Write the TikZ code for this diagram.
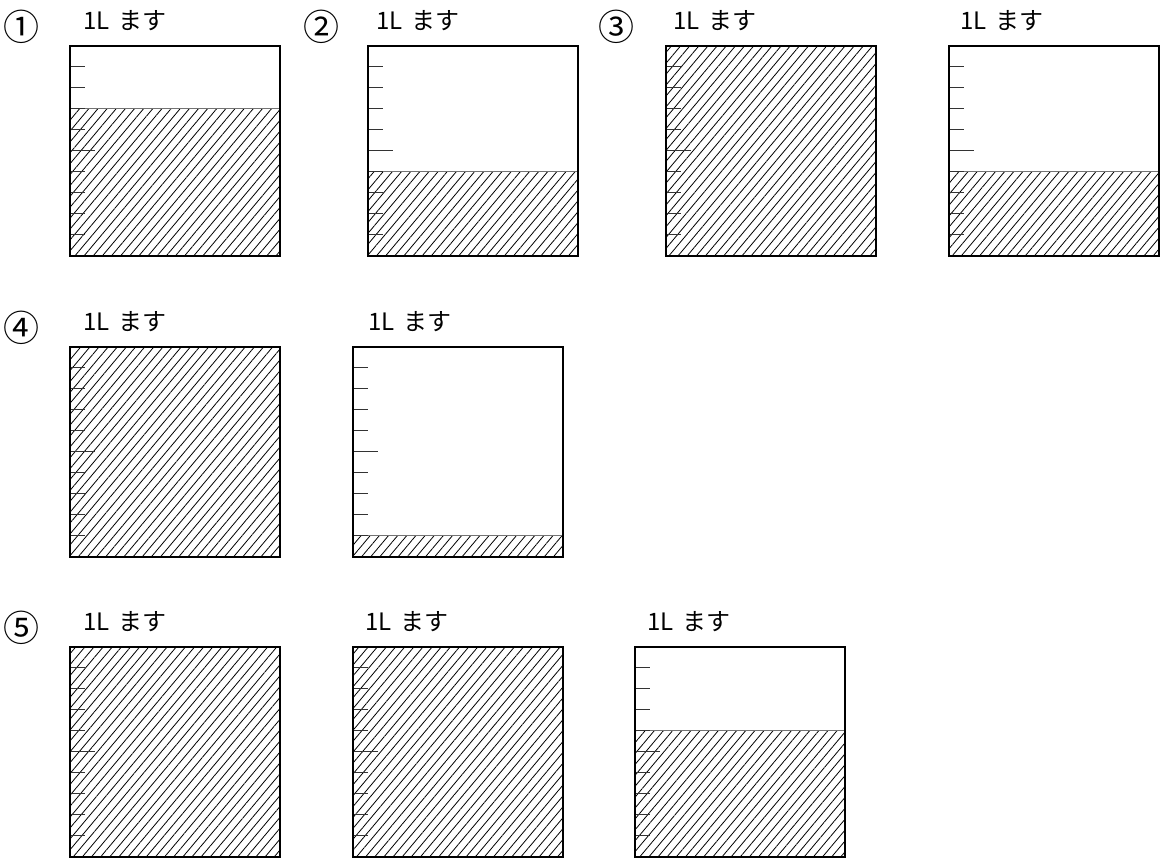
\documentclass[tikz,border=0pt]{standalone}
\usepackage{fontspec}
\setmainfont{Noto Sans CJK JP}
\usetikzlibrary{patterns.meta}
\tikzset{
  box/.style={draw=black, line width=2pt, minimum width=210pt, minimum height=210pt, inner sep=0pt, outer sep=0pt, anchor=north west},
  water/.style={pattern={Lines[angle=50, distance=7pt, line width=0.8pt]}, pattern color=black},
  levelline/.style={draw=black!55, line width=1.2pt},
  tickline/.style={draw=black!80, line width=1.1pt},
  lbl/.style={anchor=base west, inner sep=0pt, font=\fontsize{24}{28}\selectfont},
  num/.style={anchor=center, inner sep=0pt, font=\fontsize{36}{40}\selectfont}
}
\newcommand\masu[4]{%
  \pgfmathsetmacro\lvl{#3+210-21*#4}
  \path[water] (#2,\lvl) rectangle ({#2+210},{#3+210});
  \ifnum#4<10 \draw[levelline] (#2,\lvl) -- ({#2+210},\lvl);\fi
  \foreach \k in {1,...,9}
    \draw[tickline] (#2,{#3+21*\k}) -- ({#2+(\k==5?25:15)},{#3+21*\k});
  \node[box] (#1) at (#2,#3) {};
}
\begin{document}
\begin{tikzpicture}[x=1pt,y=-1pt]
\useasboundingbox (0,0) rectangle (1161,857);
% row 1
\node[num] (n1) at (21.5,27) {①};
\node[num] (n2) at (321,27) {②};
\node[num] (n3) at (616,27) {③};
\node[lbl] (l11) at (83,29) {1L\hspace{9pt}ます};
\node[lbl] (l12) at (376,29) {1L\hspace{9pt}ます};
\node[lbl] (l13) at (673,29) {1L\hspace{9pt}ます};
\node[lbl] (l14) at (960,29) {1L\hspace{9pt}ます};
\masu{b11}{70}{45.7}{7}
\masu{b12}{367.7}{45.7}{4}
\masu{b13}{666}{45.7}{10}
\masu{b14}{949.3}{45.7}{4}
% row 2
\node[num] (n4) at (21.5,328) {④};
\node[lbl] (l21) at (83,330) {1L\hspace{9pt}ます};
\node[lbl] (l22) at (368,330) {1L\hspace{9pt}ます};
\masu{b21}{70}{346.7}{10}
\masu{b22}{353.3}{346.7}{1}
% row 3
\node[num] (n5) at (21.5,628) {⑤};
\node[lbl] (l31) at (83,630) {1L\hspace{9pt}ます};
\node[lbl] (l32) at (365,630) {1L\hspace{9pt}ます};
\node[lbl] (l33) at (647,630) {1L\hspace{9pt}ます};
\masu{b31}{70}{646.7}{10}
\masu{b32}{352.7}{646.7}{10}
\masu{b33}{635}{646.7}{6}
\end{tikzpicture}
\end{document}
